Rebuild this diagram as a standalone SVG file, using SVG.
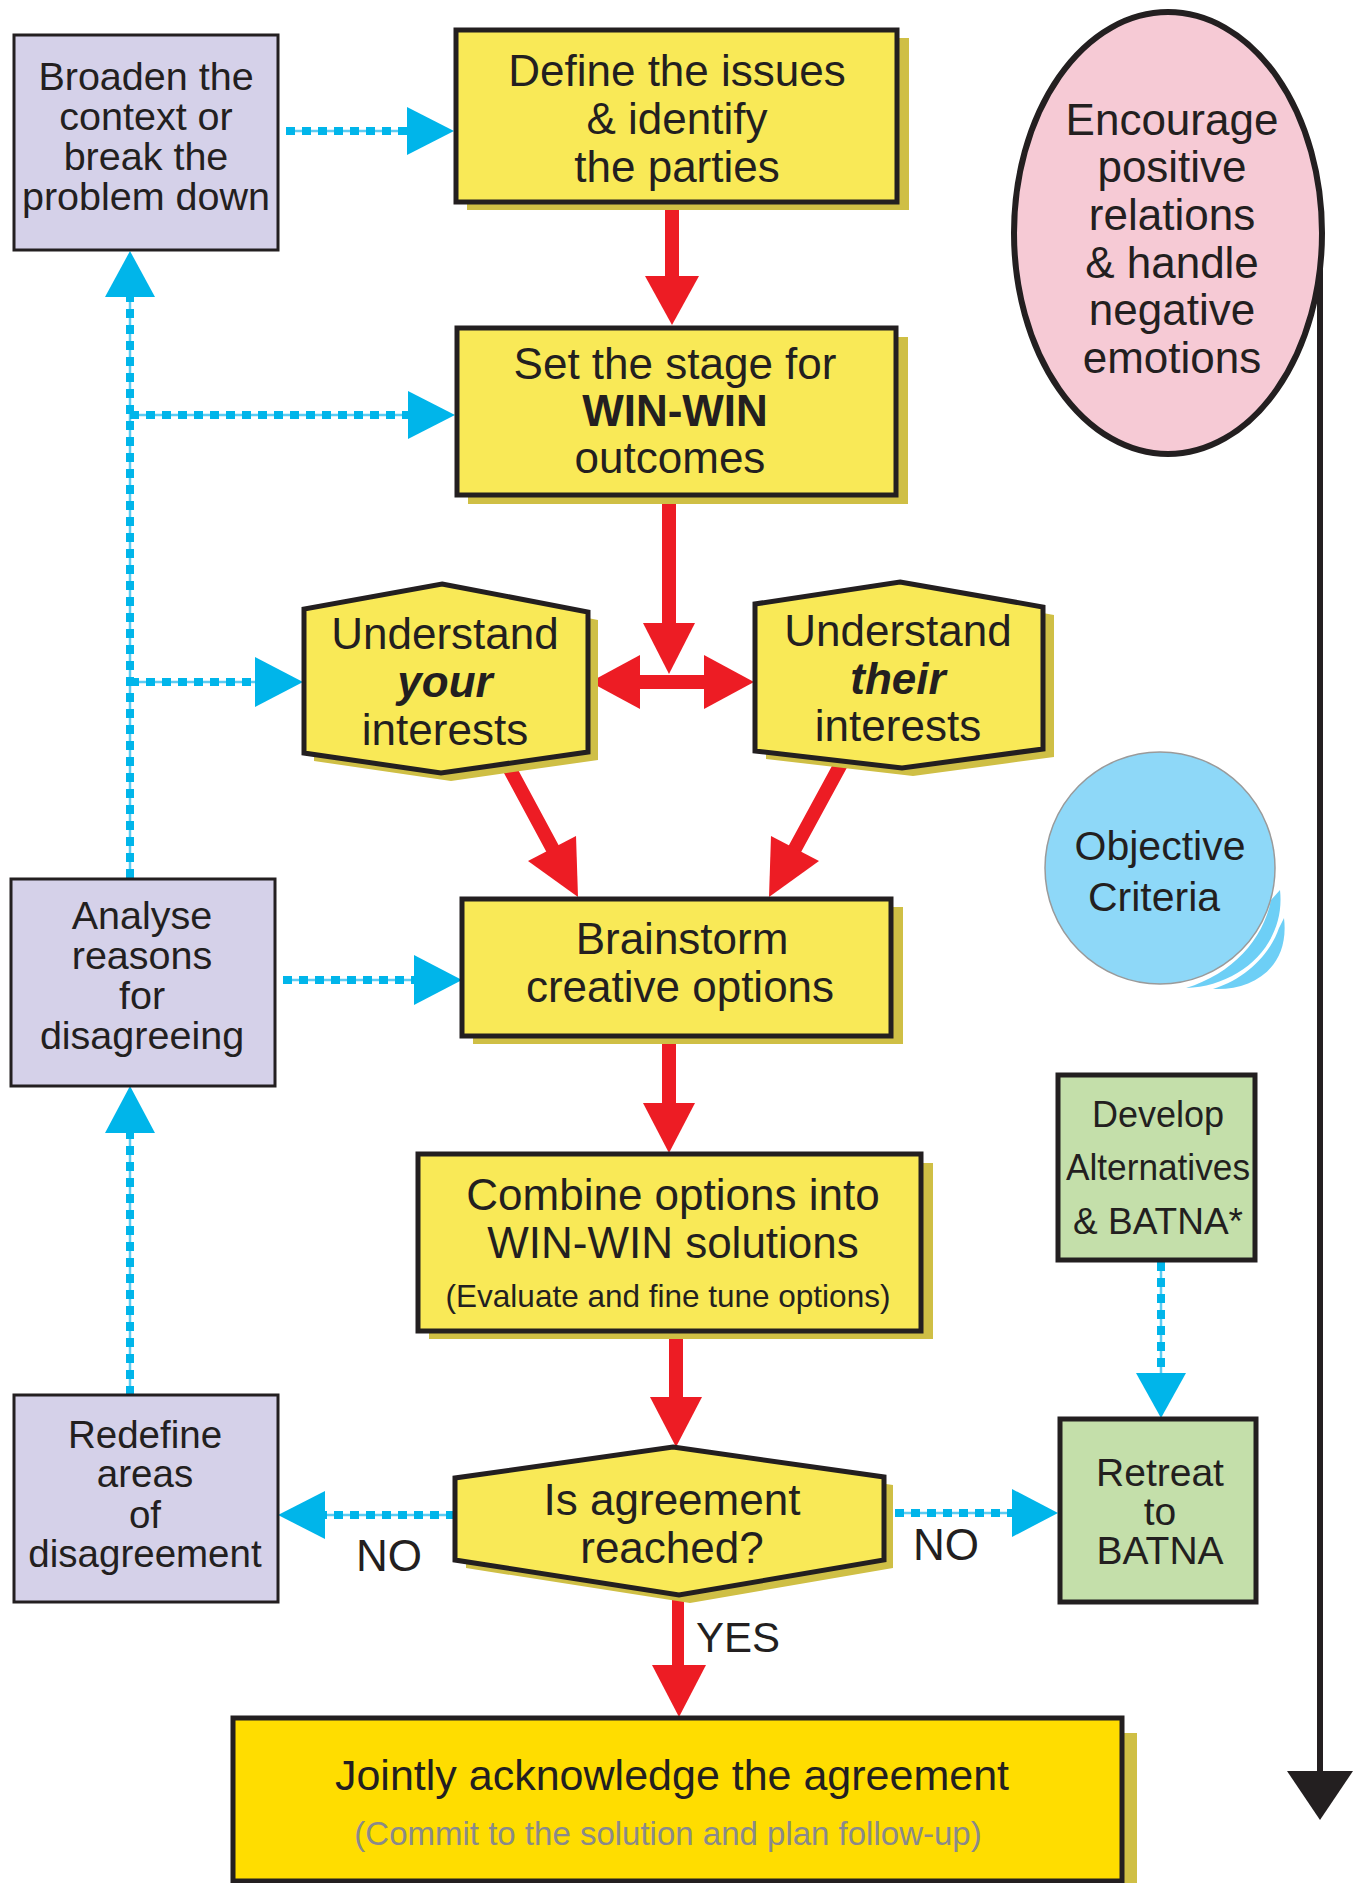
<svg xmlns="http://www.w3.org/2000/svg" width="1362" height="1883" viewBox="0 0 1362 1883">
<defs>
<style>
text{font-family:"Liberation Sans",Arial,Helvetica,sans-serif;fill:#231f20;text-anchor:middle}
.t44{font-size:44px}
.t40{font-size:39.5px}
.ybox{fill:#f9e957;stroke:#231f20;stroke-width:5}
.shadow{fill:#cfbf45}
.lav{fill:#d5d1e9;stroke:#231f20;stroke-width:3}
.grn{fill:#c4dfaa;stroke:#231f20;stroke-width:5}
.red{stroke:#ed1c24;stroke-width:14;fill:none}
.redh{fill:#ed1c24}
.bl1{stroke:#5ccbf2;stroke-width:2.5;fill:none}
.bl2{stroke:#00b5ea;stroke-width:8;stroke-dasharray:9 7;fill:none}
.blh{fill:#00b5ea}
</style>
</defs>
<rect width="1362" height="1883" fill="#fff"/>

<g id="connectors">
<g>
<path class="bl1" d="M286,131H410M130,297V878M130,415H410M130,682H258M283,980H416M130,1133V1395M325,1515H455M895,1513H1014M1161,1262V1375"/>
<path class="bl2" d="M286,131H408M130,878V297M130,415H408M130,682H256M283,980H414M130,1395V1133M455,1515H325M895,1513H1012M1161,1262V1373"/>
<polygon class="blh" points="454,131 407,107 407,155"/>
<polygon class="blh" points="130,251 105,297 155,297"/>
<polygon class="blh" points="455,415 408,391 408,439"/>
<polygon class="blh" points="303,682 255,657 255,707"/>
<polygon class="blh" points="462,980 414,955 414,1005"/>
<polygon class="blh" points="130,1086 105,1133 155,1133"/>
<polygon class="blh" points="278,1515 325,1491 325,1539"/>
<polygon class="blh" points="1058,1513 1012,1489 1012,1537"/>
<polygon class="blh" points="1161,1418 1136,1373 1186,1373"/>
</g>
<g>
<path class="red" d="M672,203V278M669,497V625M638,682H706M507,764L556,855M841,764L791,856M669,1038V1105M676,1333V1399"/>
<path stroke="#ed1c24" stroke-width="12" d="M678,1598V1667"/>
<polygon class="redh" points="645,276 699,276 672,325"/>
<polygon class="redh" points="643,623 695,623 669,674"/>
<polygon class="redh" points="590,682 640,655 640,709"/>
<polygon class="redh" points="754,682 704,655 704,709"/>
<polygon class="redh" points="578,897 576,836 528,861"/>
<polygon class="redh" points="769,897 819,861 771,836"/>
<polygon class="redh" points="643,1103 695,1103 669,1153"/>
<polygon class="redh" points="650,1397 702,1397 676,1447"/>
<polygon class="redh" points="652,1665 706,1665 679,1717"/>
</g>
<g>
<path d="M1320,235V1775" stroke="#231f20" stroke-width="6" fill="none"/>
<polygon fill="#231f20" points="1287,1771 1353,1771 1320,1820"/>
</g>
</g>

<g id="broaden">
<rect class="lav" x="14" y="35" width="264" height="215"/>
<text class="t40" x="146" y="90">Broaden the</text>
<text class="t40" x="146" y="130">context or</text>
<text class="t40" x="146" y="170">break the</text>
<text class="t40" x="146" y="210">problem down</text>
</g>

<g id="define">
<rect class="shadow" x="467" y="38" width="442" height="172"/>
<rect class="ybox" x="456" y="30" width="441" height="172"/>
<text class="t44" x="677" y="86">Define the issues</text>
<text class="t44" x="677" y="134">&amp; identify</text>
<text class="t44" x="677" y="182">the parties</text>
</g>

<g id="encourage">
<ellipse cx="1168" cy="233" rx="154" ry="221" fill="#f6cad5" stroke="#231f20" stroke-width="6"/>
<text class="t44" x="1172" y="135">Encourage</text>
<text class="t44" x="1172" y="182">positive</text>
<text class="t44" x="1172" y="230">relations</text>
<text class="t44" x="1172" y="278">&amp; handle</text>
<text class="t44" x="1172" y="325">negative</text>
<text class="t44" x="1172" y="373">emotions</text>
</g>

<g id="setstage">
<rect class="shadow" x="468" y="337" width="440" height="167"/>
<rect class="ybox" x="457" y="328" width="439" height="167"/>
<text class="t44" x="675" y="379">Set the stage for</text>
<text class="t44" x="675" y="426" font-weight="bold">WIN-WIN</text>
<text class="t44" x="670" y="473">outcomes</text>
</g>

<g id="your">
<polygon class="shadow" points="452,592 598,620 598,760 451,781 314,761 314,617"/>
<polygon class="ybox" points="442,584 588,612 588,752 441,773 304,753 304,609"/>
<text class="t44" x="445" y="649">Understand</text>
<text class="t44" x="445" y="697" font-weight="bold" font-style="italic">your</text>
<text class="t44" x="445" y="745">interests</text>
</g>

<g id="their">
<polygon class="shadow" points="911,590 1054,615 1054,757 913,776 766,759 766,612"/>
<polygon class="ybox" points="900,582 1043,607 1043,749 902,768 755,751 755,604"/>
<text class="t44" x="898" y="646">Understand</text>
<text class="t44" x="898" y="694" font-weight="bold" font-style="italic">their</text>
<text class="t44" x="898" y="741">interests</text>
</g>

<g id="objective">
<path fill="#6dcff6" d="M1280,890C1286,945 1240,986 1186,988C1232,974 1263,940 1271,900Z"/>
<path fill="#6dcff6" d="M1284,918C1290,968 1252,991 1213,989C1248,978 1271,952 1279,928Z"/>
<ellipse cx="1160" cy="868" rx="115" ry="116" fill="#8ed8f8" stroke="#9a9a9a" stroke-width="1.5"/>
<text x="1160" y="860" font-size="41">Objective</text>
<text x="1154" y="911" font-size="41">Criteria</text>
</g>

<g id="analyse">
<rect class="lav" x="11" y="879" width="264" height="207"/>
<text class="t40" x="142" y="929">Analyse</text>
<text class="t40" x="142" y="969">reasons</text>
<text class="t40" x="142" y="1009">for</text>
<text class="t40" x="142" y="1049">disagreeing</text>
</g>

<g id="brainstorm">
<rect class="shadow" x="473" y="907" width="430" height="137"/>
<rect class="ybox" x="462" y="899" width="429" height="137"/>
<text class="t44" x="682" y="954">Brainstorm</text>
<text class="t44" x="680" y="1002">creative options</text>
</g>

<g id="develop">
<rect class="grn" x="1058" y="1075" width="197" height="185"/>
<text x="1158" y="1127" font-size="36">Develop</text>
<text x="1158" y="1180" font-size="36" textLength="184" lengthAdjust="spacingAndGlyphs">Alternatives</text>
<text x="1158" y="1234" font-size="37">&amp; BATNA*</text>
</g>

<g id="combine">
<rect class="shadow" x="429" y="1163" width="504" height="176"/>
<rect class="ybox" x="418" y="1154" width="503" height="177"/>
<text class="t44" x="673" y="1210">Combine options into</text>
<text class="t44" x="673" y="1258">WIN-WIN solutions</text>
<text x="668" y="1307" font-size="31.5">(Evaluate and fine tune options)</text>
</g>

<g id="redefine">
<rect class="lav" x="14" y="1395" width="264" height="207"/>
<text x="145" y="1448" font-size="38.5">Redefine</text>
<text x="145" y="1487" font-size="38.5">areas</text>
<text x="145" y="1528" font-size="38.5">of</text>
<text x="145" y="1567" font-size="38.5">disagreement</text>
</g>

<g id="agreement">
<polygon class="shadow" points="684,1455 893,1485 893,1568 690,1603 466,1568 466,1486"/>
<polygon class="ybox" points="673,1447 884,1477 884,1560 679,1595 455,1560 455,1478"/>
<text class="t44" x="672" y="1515">Is agreement</text>
<text class="t44" x="672" y="1563">reached?</text>
</g>

<g id="labels">
<text class="t44" x="389" y="1571">NO</text>
<text class="t44" x="946" y="1560">NO</text>
<text x="738" y="1652" font-size="42">YES</text>
</g>

<g id="retreat">
<rect class="grn" x="1060" y="1419" width="196" height="183"/>
<text x="1160" y="1486" font-size="39">Retreat</text>
<text x="1160" y="1525" font-size="39">to</text>
<text x="1160" y="1564" font-size="39">BATNA</text>
</g>

<g id="jointly">
<rect class="shadow" x="248" y="1733" width="889" height="160"/>
<rect x="233" y="1718" width="889" height="163" fill="#ffdd00" stroke="#231f20" stroke-width="5"/>
<text x="672" y="1790" font-size="43">Jointly acknowledge the agreement</text>
<text x="668" y="1845" font-size="33" style="fill:#8a8a8a">(Commit to the solution and plan follow-up)</text>
</g>
</svg>
